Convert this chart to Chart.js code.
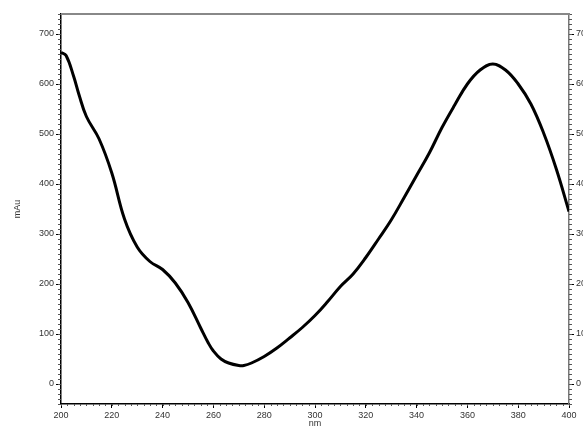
<!DOCTYPE html>
<html>
<head>
<meta charset="utf-8">
<script src="https://cdn.jsdelivr.net/npm/chart.js@4"></script>
<style>
  html, body { margin: 0; padding: 0; background: #fff; }
  #wrap { width: 583px; height: 430px; position: relative; }
</style>
</head>
<body>
<div id="wrap"><canvas id="spectrum"></canvas></div>
<script>
// Wavelength (nm) and absorbance (mAu)
const wavelengths = [200, 202, 205, 207, 210, 215, 220, 225, 230, 235, 240, 245, 250, 255, 258, 260, 263, 266,
    270, 272, 275, 280, 285, 290, 295, 300, 305, 310, 315, 320, 325, 330, 335, 340, 345, 350, 355, 360,
    365, 370, 375, 380, 385, 390, 395, 400];
const absorbance = [663, 657, 615, 580, 535, 490, 422, 330, 274, 245, 229, 202, 163, 112, 82, 66, 50, 42,
    37, 37, 42, 55, 72, 92, 113, 137, 165, 195, 220, 253, 290, 328, 372, 417, 462, 513, 558, 600,
    628, 640, 628, 600, 560, 502, 430, 345];

const xTicks = [200, 220, 240, 260, 280, 300, 320, 340, 360, 380, 400];
const yTicks = [0, 100, 200, 300, 400, 500, 600, 700];

const font = { family: "Liberation Sans, Arial, sans-serif", size: 9 };

// small minor ticks along the axes, placed with the chart's own scales
const minorTicks = {
    id: "minorTicks",
    afterDraw(chart) {
        const c = chart.ctx, a = chart.chartArea;
        const x = chart.scales.x, y = chart.scales.y;
        c.save();
        c.strokeStyle = "#555";
        c.lineWidth = 1;
        c.beginPath();
        for (let v = -40; v <= 740; v += 10) {
            const py = Math.round(y.getPixelForValue(v)) + 0.5;
            c.moveTo(a.left - 3, py); c.lineTo(a.left, py);
            c.moveTo(a.right, py); c.lineTo(a.right + 3, py);
        }
        for (let v = 200; v <= 400; v += 2.5) {
            const px = Math.round(x.getPixelForValue(v)) + 0.5;
            c.moveTo(px, a.bottom); c.lineTo(px, a.bottom + 2);
        }
        c.stroke();
        // grey frame on top
        c.strokeStyle = "#888";
        c.lineWidth = 2;
        c.beginPath();
        c.moveTo(a.left, a.top); c.lineTo(a.right + 1, a.top);
        c.stroke();
        c.restore();
    }
};

new Chart(document.getElementById("spectrum"), {
    type: "line",
    data: {
        datasets: [{
            data: wavelengths.map((w, i) => ({ x: w, y: absorbance[i] })),
            borderColor: "#000",
            borderWidth: 3,
            pointRadius: 0,
            tension: 0.4,
            fill: false
        }]
    },
    options: {
        responsive: true,
        maintainAspectRatio: false,
        animation: false,
        layout: { padding: { top: 14, left: 0, right: 0, bottom: 0 } },
        plugins: { legend: { display: false }, tooltip: { enabled: false } },
        scales: {
            x: {
                type: "linear",
                min: 200,
                max: 400,
                afterBuildTicks: s => { s.ticks = xTicks.map(v => ({ value: v })); },
                afterFit: s => { s.height = 26; },
                grid: { drawOnChartArea: false, tickLength: 4, color: "#000" },
                border: { color: "#000", width: 1.5 },
                ticks: { color: "#333", font: font, padding: 2, maxRotation: 0 },
                title: { display: true, text: "nm", color: "#333", font: font, padding: { top: 0, bottom: 1 } }
            },
            y: {
                min: -40,
                max: 740,
                afterBuildTicks: s => { s.ticks = yTicks.map(v => ({ value: v })); },
                afterFit: s => { s.width = 61; },
                grid: { drawOnChartArea: false, tickLength: 5, color: "#000" },
                border: { color: "#000", width: 1.5 },
                ticks: { color: "#333", font: font, padding: 2 },
                title: { display: true, text: "mAu", color: "#333", font: font, padding: { top: 12, bottom: 0 } }
            },
            y2: {
                position: "right",
                min: -40,
                max: 740,
                afterBuildTicks: s => { s.ticks = yTicks.map(v => ({ value: v })); },
                afterFit: s => { s.width = 14; },
                grid: { drawOnChartArea: false, tickLength: 5, color: "#000" },
                border: { color: "#777", width: 1.5 },
                ticks: { color: "#333", font: font, padding: 2 }
            }
        }
    },
    plugins: [minorTicks]
});
</script>
</body>
</html>
